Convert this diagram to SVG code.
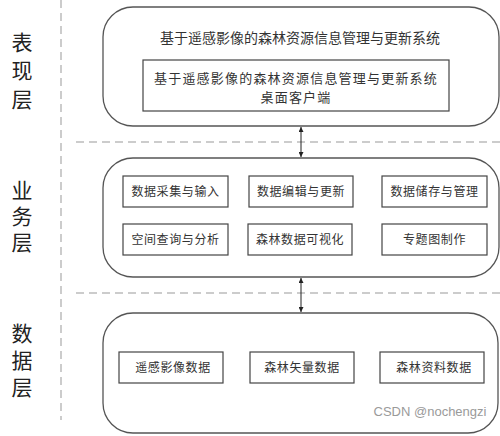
<svg xmlns="http://www.w3.org/2000/svg" width="500" height="436" viewBox="0 0 500 436">
<defs>
<marker id="ah" viewBox="0 0 10 10" refX="10" refY="5" markerWidth="5" markerHeight="5" orient="auto-start-reverse">
<path d="M0,0 L10,5 L0,10 z" fill="#222"/>
</marker>
<style>
.layer{fill:#fff;stroke:#555;stroke-width:1.3}
.box{fill:#fff;stroke:#444;stroke-width:1.2}
.t{font-family:"Noto Sans CJK SC","Liberation Sans",sans-serif;fill:#333;text-anchor:middle}
.big{font-family:"Noto Sans CJK SC",sans-serif;font-size:21px;fill:#222;writing-mode:vertical-rl;text-anchor:start}
.title{font-size:14px}
.sub{font-size:13px;letter-spacing:1.2px}
.lbl{font-size:12px;letter-spacing:0.6px}
.dash{stroke:#999;stroke-width:1;stroke-dasharray:8 5;fill:none}
.conn{stroke:#222;stroke-width:1;fill:none}
</style>
</defs>
<rect width="500" height="436" fill="#fff"/>
<g id="separators">
<line class="dash" x1="61" y1="0" x2="61" y2="420"/>
<line class="dash" x1="76" y1="142" x2="500" y2="142"/>
<line class="dash" x1="76" y1="293" x2="500" y2="293"/>
</g>
<g id="labels">
<text class="big" x="22" y="31.5" letter-spacing="7.5">表现层</text>
<text class="big" x="22" y="179.5" letter-spacing="5">业务层</text>
<text class="big" x="22" y="322.5" letter-spacing="6">数据层</text>
</g>
<g id="presentation">
<rect class="layer" x="103" y="7" width="396" height="119" rx="30" ry="30"/>
<text class="t title" x="300" y="43">基于遥感影像的森林资源信息管理与更新系统</text>
<g id="desktop-client">
<rect class="box" x="143" y="60" width="306" height="51"/>
<text class="t sub" x="296" y="82.5">基于遥感影像的森林资源信息管理与更新系统</text>
<text class="t sub" x="296" y="101.5">桌面客户端</text>
</g>
</g>
<g id="business">
<rect class="layer" x="103" y="158" width="396" height="119" rx="30" ry="30"/>
<g id="b1"><rect class="box" x="123" y="176" width="105" height="31"/><text class="t lbl" x="175.5" y="195.5">数据采集与输入</text></g>
<g id="b2"><rect class="box" x="249" y="176" width="104" height="31"/><text class="t lbl" x="301" y="195.5">数据编辑与更新</text></g>
<g id="b3"><rect class="box" x="382" y="176" width="105" height="31"/><text class="t lbl" x="434.5" y="195.5">数据储存与管理</text></g>
<g id="b4"><rect class="box" x="123" y="224" width="105" height="31"/><text class="t lbl" x="175.5" y="243.5">空间查询与分析</text></g>
<g id="b5"><rect class="box" x="248" y="224" width="104" height="31"/><text class="t lbl" x="300" y="243.5">森林数据可视化</text></g>
<g id="b6"><rect class="box" x="382" y="224" width="105" height="31"/><text class="t lbl" x="434.5" y="243.5">专题图制作</text></g>
</g>
<g id="data">
<rect class="layer" x="103" y="313" width="395" height="120" rx="30" ry="30"/>
<g id="d1"><rect class="box" x="119" y="352" width="104" height="31"/><text class="t lbl" x="173" y="372">遥感影像数据</text></g>
<g id="d2"><rect class="box" x="250" y="352" width="104" height="31"/><text class="t lbl" x="302" y="372">森林矢量数据</text></g>
<g id="d3"><rect class="box" x="380" y="352" width="104" height="31"/><text class="t lbl" x="434" y="372">森林资料数据</text></g>
</g>
<g id="connectors">
<line class="conn" x1="301" y1="127" x2="301" y2="157" marker-start="url(#ah)" marker-end="url(#ah)"/>
<line class="conn" x1="301" y1="278" x2="301" y2="312" marker-start="url(#ah)" marker-end="url(#ah)"/>
</g>
<text x="430" y="416" font-family="Liberation Sans,Arial,sans-serif" font-size="13" fill="#9a9a9a" text-anchor="middle">CSDN @nochengzi</text>
</svg>
